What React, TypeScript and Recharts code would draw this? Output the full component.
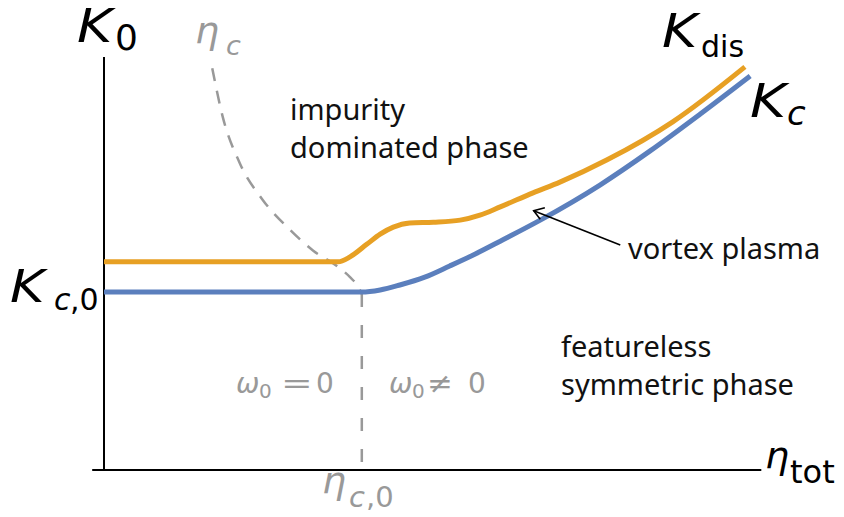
import { ComposedChart, Line, XAxis, YAxis, ReferenceLine } from "recharts";

// schematic units: x = eta_tot, y = K0, both on 0..10
const kcX = [0, 3.93, 4.21, 4.51, 4.89, 5.27, 5.66, 6.04, 6.65, 7.56, 8.32, 9.09, 9.85];
const kcY = [4.31, 4.31, 4.36, 4.48, 4.67, 4.94, 5.23, 5.54, 6.05, 6.9, 7.72, 8.62, 9.54];

const kdisX = [0, 3.57, 3.75, 4.01, 4.21, 4.41, 4.66, 5.02, 5.43, 5.73, 6.04, 6.54, 6.95, 7.67, 8.67, 9.77];
const kdisY = [5.04, 5.04, 5.16, 5.47, 5.71, 5.88, 5.98, 6.0, 6.05, 6.17, 6.37, 6.71, 6.97, 7.51, 8.43, 9.76];

const etaCX = [1.65, 1.81, 2.07, 2.42, 2.84, 3.19, 3.55, 3.75, 3.87, 3.93];
const etaCY = [9.73, 8.55, 7.43, 6.54, 5.81, 5.31, 4.94, 4.67, 4.45, 4.26];

const etaC0X = [3.93, 3.93];
const etaC0Y = [4.26, 0];

const arrowX = [7.87, 6.55];
const arrowY = [5.45, 6.28];
const headX = [6.72, 6.55, 6.65];
const headY = [6.35, 6.28, 6.07];

const zip = (xs: number[], ys: number[]) => xs.map((x, i) => ({ x, y: ys[i] }));

const kc = zip(kcX, kcY);
const kdis = zip(kdisX, kdisY);
const etaC = zip(etaCX, etaCY);
const etaC0 = zip(etaC0X, etaC0Y);
const arrow = zip(arrowX, arrowY);
const head = zip(headX, headY);

const W = 844;
const H = 517;
const FONT = "'Noto Sans', 'DejaVu Sans', sans-serif";
const MATH = "'DejaVu Sans', sans-serif";
const GRAY = "#999999";
const BLUE = "#5b7fbd";
const ORANGE = "#e7a024";

// slanted K, a bit wider than DejaVu's so it looks like the TeX one
function BigK({ x, y, size }: { x: number; y: number; size: number }) {
  return (
    <text transform={`translate(${x},${y}) scale(1.17,1)`} fontSize={size} fontStyle="oblique" fill="#000">
      K
    </text>
  );
}

function Labels() {
  return (
    <svg
      width={W}
      height={H}
      style={{ position: "absolute", left: 0, top: 0, pointerEvents: "none" }}
    >
      <g fontFamily={MATH}>
        {/* axis labels */}
        <BigK x={77} y={42} size={46} />
        <text x={115} y={50} fontSize={36} fill="#000">0</text>

        <text x={765} y={468} fontSize={38} fontStyle="oblique" fill="#000">η</text>
        <text x={790} y={483} fontSize={32} fill="#000">tot</text>

        <BigK x={10} y={302} size={45} />
        <text y={310} fontSize={30} fill="#000">
          <tspan x={54} fontStyle="oblique">c</tspan>
          <tspan x={70}>,0</tspan>
        </text>

        <text x={322} y={493} fontSize={38} fontStyle="oblique" fill={GRAY}>η</text>
        <text y={507} fontSize={29} fill={GRAY}>
          <tspan x={349} fontStyle="oblique">c</tspan>
          <tspan x={366}>,0</tspan>
        </text>

        <text x={195} y={43} fontSize={38} fontStyle="oblique" fill={GRAY}>η</text>
        <text x={226} y={55} fontSize={27} fontStyle="oblique" fill={GRAY}>c</text>

        {/* curve labels */}
        <BigK x={662} y={47} size={46} />
        <text x={701} y={57} fontSize={30} fill="#000">dis</text>

        <BigK x={750} y={117} size={47} />
        <text x={787} y={125} fontSize={34} fontStyle="oblique" fill="#000">c</text>

        {/* omega_0 on both sides of eta_c,0 */}
        <g fill={GRAY} fontSize={28}>
          <text x={236} y={393} fontStyle="oblique">ω</text>
          <text x={259} y={398} fontSize={20}>0</text>
          <text transform="translate(281,393) scale(1.35,1)">=</text>
          <text x={316} y={393}>0</text>

          <text x={389} y={393} fontStyle="oblique">ω</text>
          <text x={412} y={398} fontSize={20}>0</text>
          <text transform="translate(427,393) scale(1.1,1)">≠</text>
          <text x={468} y={393}>0</text>
        </g>
      </g>

      {/* phase names */}
      <g fill="#111" fontSize={29} fontFamily={FONT}>
        <text x={290} y={120}>impurity</text>
        <text x={290} y={158}>dominated phase</text>
        <text x={628} y={259}>vortex plasma</text>
        <text x={561} y={357}>featureless</text>
        <text x={561} y={395}>symmetric phase</text>
      </g>
    </svg>
  );
}

export default function App() {
  return (
    <div style={{ position: "absolute", left: 0, top: 0, width: W, height: H, background: "#fff" }}>
      <ComposedChart width={W} height={H} margin={{ top: 57, right: 84, bottom: 47, left: 104 }}>
        <XAxis type="number" dataKey="x" domain={[0, 10]} hide />
        <YAxis type="number" dataKey="y" domain={[0, 10]} hide />

        <ReferenceLine
          segment={[{ x: -0.18, y: 0 }, { x: 10.02, y: 0 }]}
          stroke="#000"
          strokeWidth={2}
          ifOverflow="visible"
        />
        <ReferenceLine
          segment={[{ x: 0, y: 0 }, { x: 0, y: 10 }]}
          stroke="#000"
          strokeWidth={2}
          ifOverflow="visible"
        />

        <Line data={etaC} dataKey="y" type="monotone" stroke={GRAY} strokeWidth={2.5}
          strokeDasharray="13 10" dot={false} isAnimationActive={false} />
        <Line data={etaC0} dataKey="y" type="linear" stroke={GRAY} strokeWidth={2.5}
          strokeDasharray="13 18" dot={false} isAnimationActive={false} />

        <Line data={kdis} dataKey="y" type="monotone" stroke={ORANGE} strokeWidth={5}
          dot={false} isAnimationActive={false} />
        <Line data={kc} dataKey="y" type="monotone" stroke={BLUE} strokeWidth={5}
          dot={false} isAnimationActive={false} />

        <Line data={arrow} dataKey="y" type="linear" stroke="#000" strokeWidth={1.6}
          dot={false} isAnimationActive={false} />
        <Line data={head} dataKey="y" type="linear" stroke="#000" strokeWidth={1.6}
          dot={false} isAnimationActive={false} />
      </ComposedChart>
      <Labels />
    </div>
  );
}
